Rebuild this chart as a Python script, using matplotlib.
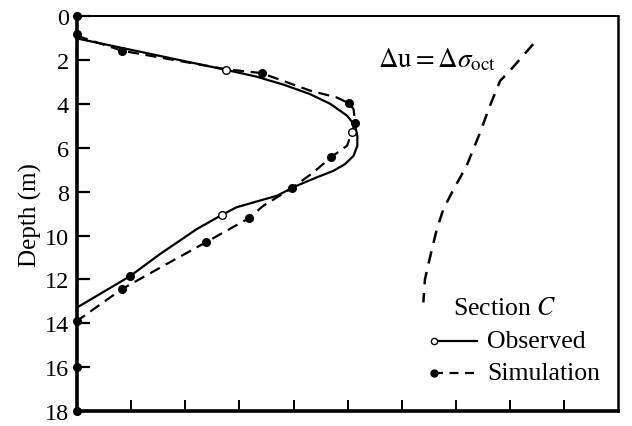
import numpy as np
import matplotlib
matplotlib.use('Agg')
import matplotlib.pyplot as plt

plt.rcParams['font.family'] = ['Liberation Serif', 'DejaVu Serif']
plt.rcParams['mathtext.fontset'] = 'stix'

# observed pore pressure profile (solid) and the measured points (open circles)
obs_x = [0.0, 2.75, 3.3, 3.81, 4.3, 4.68, 4.99, 5.14, 5.18, 5.18, 5.11, 4.95, 4.74, 4.43,
         4.06, 3.69, 2.95, 2.67, 2.21, 1.53, 0.98, 0.0]
obs_d = [1.02, 2.45, 2.75, 3.12, 3.55, 4.0, 4.54, 5.0, 5.46, 5.91, 6.37, 6.75, 7.05, 7.35,
         7.73, 8.19, 8.71, 9.07, 9.71, 10.85, 11.85, 13.28]
obs_pt_x = [2.75, 5.08, 2.67]
obs_pt_d = [2.45, 5.27, 9.07]

# simulation profile (dashed) and computed points (filled dots)
sim_x = [0.0, 0.83, 2.75, 3.41, 4.31, 4.80, 5.03, 5.11, 5.14, 4.99, 4.69, 4.37, 3.97,
         3.44, 3.17, 2.38, 1.59, 0.83, 0.0]
sim_d = [0.9, 1.58, 2.42, 2.6, 3.40, 3.71, 3.98, 4.24, 4.85, 5.91, 6.44, 7.12, 7.84,
         8.65, 9.22, 10.31, 11.39, 12.44, 13.89]
sim_pt_x = [0.0, 0.0, 0.83, 3.41, 5.03, 5.14, 4.69, 3.97, 3.17, 2.38, 0.98, 0.83, 0.0, 0.0, 0.0]
sim_pt_d = [0.0, 0.82, 1.58, 2.6, 3.98, 4.85, 6.44, 7.84, 9.22, 10.31, 11.86, 12.44, 13.89, 16.0, 18.0]

# du = d(sigma_oct) reference curve
oct_x = [8.43, 8.0, 7.82, 7.63, 7.45, 7.20, 6.96, 6.77, 6.65, 6.53, 6.43, 6.40]
oct_d = [1.28, 2.49, 2.95, 4.09, 5.30, 6.82, 7.89, 8.80, 9.71, 10.92, 11.99, 13.05]

depth_ticks = np.arange(0, 19, 2)
x_ticks = np.arange(1, 10)

fig = plt.figure(figsize=(6.32, 4.27), dpi=100)
ax = fig.add_axes([0.122, 0.035, 0.856, 0.925])

ax.plot(obs_x, obs_d, '-', color='black', lw=1.6)
ax.plot(sim_x, sim_d, '--', color='black', lw=1.6, dashes=(5, 3))
ax.plot(oct_x, oct_d, '--', color='black', lw=1.8, dashes=(5, 3.5))
ax.plot(sim_pt_x, sim_pt_d, 'o', color='black', ms=5.5, clip_on=False, zorder=5)
ax.plot(obs_pt_x, obs_pt_d, 'o', mfc='white', mec='black', mew=1.0, ms=5.5, zorder=6)

ax.text(6.65, 2.28, r'$\Delta\mathrm{u} = \Delta\sigma_{\mathrm{oct}}$', fontsize=19.5,
        ha='center', va='baseline')

# legend
ax.text(7.9, 13.3, 'Section $C$', fontsize=18.5, ha='center', va='center')
ax.plot([6.6, 7.39], [14.8, 14.8], '-', color='black', lw=1.6)
ax.plot([6.6], [14.8], 'o', mfc='white', mec='black', mew=1.0, ms=4.5)
ax.plot([6.6, 7.39], [16.27, 16.27], '--', color='black', lw=1.6, dashes=(4, 3))
ax.plot([6.6], [16.27], 'o', color='black', ms=5)
ax.text(7.58, 14.8, 'Observed', fontsize=18.5, ha='left', va='center')
ax.text(7.58, 16.27, 'Simulation', fontsize=18.5, ha='left', va='center')

ax.set_xlim(0, 10.0)
ax.set_ylim(18, 0)
ax.set_xticks(x_ticks)
ax.set_xticklabels([])
ax.set_yticks(depth_ticks)
ax.set_ylabel('Depth (m)', fontsize=18, labelpad=2)
ax.tick_params(axis='y', direction='in', length=9, width=1.6, labelsize=17.5, pad=6)
ax.tick_params(axis='x', direction='in', length=8, width=1.4)

ax.spines['left'].set_linewidth(2.6)
ax.spines['bottom'].set_linewidth(2.6)
ax.spines['top'].set_linewidth(1.4)
ax.spines['right'].set_linewidth(1.8)

fig.savefig('out.png', dpi=100)
